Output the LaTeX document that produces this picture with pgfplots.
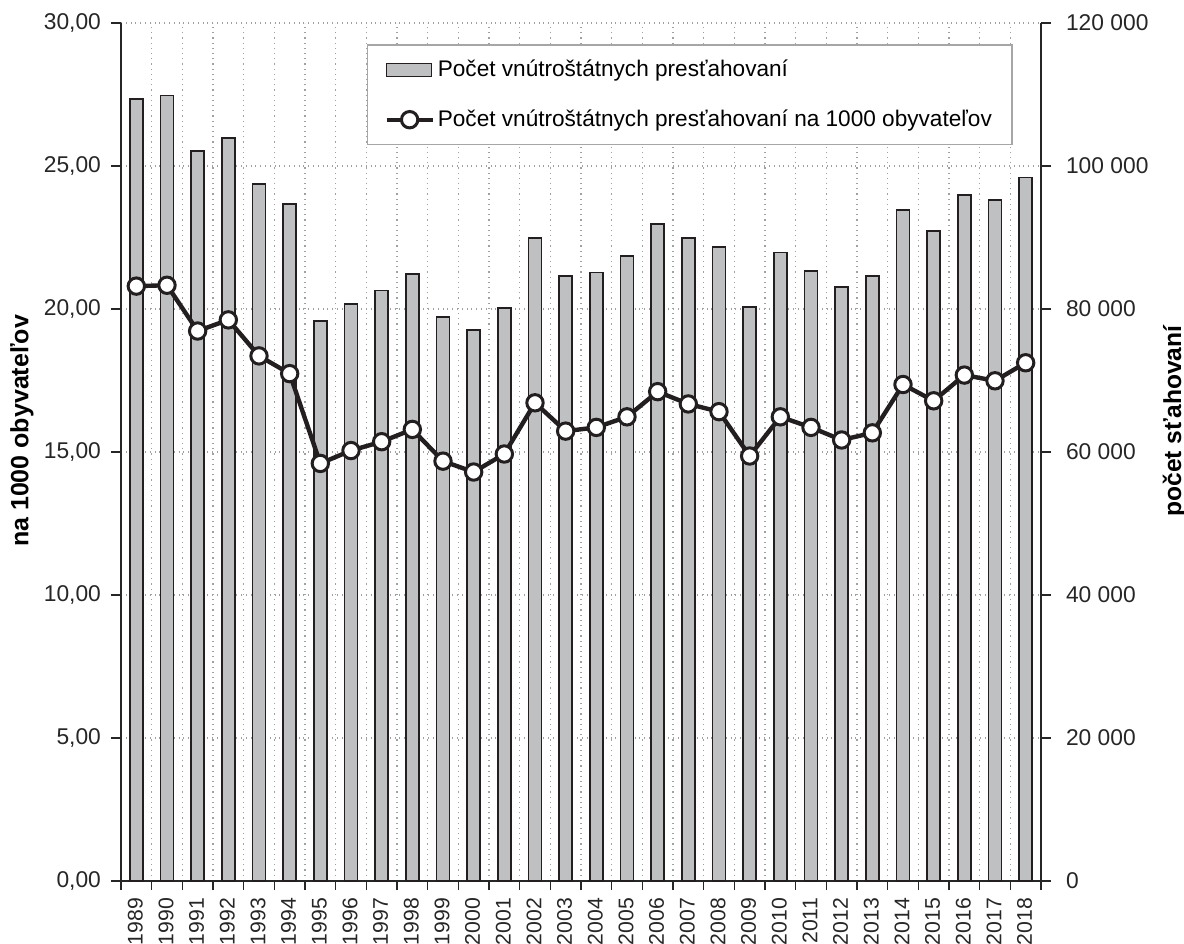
\documentclass[border=0pt]{standalone}
\usepackage{fontspec}
\setmainfont{Liberation Sans}
\usepackage{pgfplots}
\pgfplotsset{compat=1.18}
\usepackage{pgfplotstable}
\definecolor{barfill}{HTML}{BFC0C2}
\definecolor{bardraw}{HTML}{231F20}
\definecolor{gridc}{HTML}{A0A0A0}
\pgfplotsset{mylinelegend/.style={legend image code/.code={\draw[mark repeat=2, mark phase=2, ##1] plot coordinates {(0pt,0pt) (11.5pt,0pt) (23pt,0pt)};}}}
\pgfplotstableread{
x year count rate
0 1989 109400 20.80
1 1990 109850 20.83
2 1991 102100 19.23
3 1992 103900 19.62
4 1993 97450 18.36
5 1994 94650 17.74
6 1995 78350 14.60
7 1996 80650 15.05
8 1997 82600 15.36
9 1998 84900 15.79
10 1999 78900 14.68
11 2000 77100 14.30
12 2001 80100 14.93
13 2002 89900 16.72
14 2003 84650 15.73
15 2004 85100 15.86
16 2005 87400 16.23
17 2006 91900 17.11
18 2007 89950 16.68
19 2008 88700 16.41
20 2009 80300 14.86
21 2010 87900 16.23
22 2011 85350 15.86
23 2012 83100 15.42
24 2013 84650 15.67
25 2014 93850 17.36
26 2015 90900 16.79
27 2016 95950 17.69
28 2017 95200 17.49
29 2018 98400 18.12
}\datatable
\begin{document}
\begin{tikzpicture}
\pgfplotsset{
  every axis/.append style={
    width=460pt, height=429pt, scale only axis,
    at={(0pt,0pt)}, anchor=south west,
    xmin=-0.5, xmax=29.5,
    /pgf/number format/assume math mode=true,
    tick label style={font=\fontsize{11.4}{13}\selectfont, text=black!85},
    axis line style={line width=1pt, color=black!85},
    tick style={line width=0.8pt, color=black!85},
    tick align=outside,
    major tick length=5pt,
    minor tick length=4.5pt,
  }
}
\begin{axis}[
  ymin=0, ymax=120000,
  scaled y ticks=false,
  axis y line*=right,
  axis x line*=bottom,
  ytick={0,20000,40000,60000,80000,100000,120000},
  yticklabels={0,20 000,40 000,60 000,80 000,100 000,120 000},
  y tick label style={xshift=4pt},
  ymajorgrids=true,
  xtick={0,...,29},
  xticklabels={1989,1990,1991,1992,1993,1994,1995,1996,1997,1998,1999,2000,2001,2002,2003,2004,2005,2006,2007,2008,2009,2010,2011,2012,2013,2014,2015,2016,2017,2018},
  x tick label style={rotate=90, anchor=east, font=\fontsize{10.6}{13}\selectfont, yshift=0.5pt},
  every major x tick/.append style={draw=none},
  minor xtick={-0.5,0.5,...,29.5},
  xminorgrids=true,
  grid style={dotted, gridc, line width=0.6pt},
  minor grid style={dotted, gridc, line width=0.6pt},
  ylabel={\fontsize{12.3}{14}\selectfont\bfseries počet sťahovaní},
  ylabel style={at={(axis description cs:1.145,0.536)}, anchor=center, rotate=0},
]
\addplot[ybar, bar width=0.43, fill=barfill, draw=bardraw, line width=0.9pt] table[x=x, y=count] {\datatable};
\end{axis}
\begin{axis}[
  ymin=0, ymax=30,
  axis y line*=left,
  axis x line=none,
  ytick={0,5,10,15,20,25,30},
  yticklabels={{0,00},{5,00},{10,00},{15,00},{20,00},{25,00},{30,00}},
  y tick label style={xshift=-1.5pt},
  ylabel={\fontsize{12.5}{14}\selectfont\bfseries na 1000 obyvateľov},
  ylabel style={at={(axis description cs:-0.1076,0.5245)}, anchor=center},
  legend style={at={(0.267,0.975)}, anchor=north west, draw=gray!70, line width=0.8pt,
    font=\fontsize{11.3}{13}\selectfont, row sep=12pt, inner xsep=8.5pt, inner ysep=6pt,
    nodes={inner sep=1.5pt}},
  legend cell align=left,
]
\addlegendimage{legend image code/.code={\draw[fill=barfill, draw=bardraw, line width=0.8pt] (0pt,-3.2pt) rectangle (22.5pt,3.2pt);}}
\addlegendentry{Počet vnútroštátnych presťahovaní}
\addplot[color=bardraw, line width=2.2pt, mark=*, mark size=4.1pt, mark options={fill=white, draw=bardraw, line width=1.5pt}, mylinelegend] table[x=x, y=rate] {\datatable};
\addlegendentry{Počet vnútroštátnych presťahovaní na 1000 obyvateľov\hspace{8pt}}
\end{axis}
\pgfresetboundingbox
\path[use as bounding box] (-60.5pt,-31pt) rectangle (531.5pt,440.5pt);
\end{tikzpicture}
\end{document}
